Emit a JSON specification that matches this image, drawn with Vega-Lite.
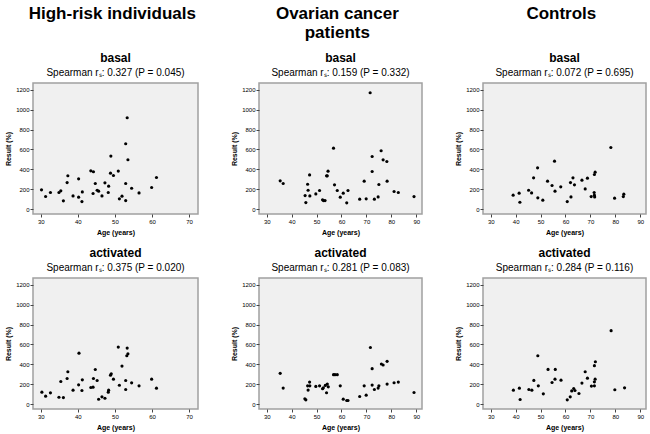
{
  "$schema": "https://vega.github.io/schema/vega-lite/v6.json",
  "padding": {"left": 3, "top": 5, "right": 5, "bottom": 5},
  "config": {
    "font": "Liberation Sans",
    "view": {"fill": "#f0f0f0", "stroke": "#a0a0a0", "strokeWidth": 1.5},
    "axis": {"grid": false, "domain": false, "tickSize": 3, "tickColor": "#444", "labelFontSize": 6, "labelColor": "#000", "labelPadding": 1, "titleFontSize": 7, "titleFontWeight": "bold", "titleColor": "#000", "titlePadding": 4, "format": "d"},
    "title": {"fontSize": 12, "fontWeight": "bold", "color": "#000", "subtitleFontSize": 10, "subtitleColor": "#000", "subtitlePadding": 3, "offset": 4, "frame": "group", "anchor": "middle"},
    "point": {"filled": true, "color": "#000", "size": 10, "opacity": 1}
  },
  "datasets": {
    "hr_b": [
      {"age": 30.2, "result": 195}, {"age": 31.3, "result": 128}, {"age": 32.6, "result": 168}, {"age": 34.9, "result": 168},
      {"age": 35.4, "result": 185}, {"age": 36.1, "result": 84}, {"age": 37.1, "result": 268}, {"age": 37.3, "result": 336},
      {"age": 38.7, "result": 134}, {"age": 40.2, "result": 121}, {"age": 40.2, "result": 305}, {"age": 41.1, "result": 77},
      {"age": 41.2, "result": 174}, {"age": 43.5, "result": 386}, {"age": 44.2, "result": 376}, {"age": 44.1, "result": 158},
      {"age": 44.7, "result": 258}, {"age": 45.2, "result": 191}, {"age": 45.6, "result": 181}, {"age": 46.5, "result": 134},
      {"age": 47.3, "result": 265}, {"age": 48.3, "result": 232}, {"age": 48.2, "result": 168}, {"age": 48.8, "result": 362},
      {"age": 48.9, "result": 534}, {"age": 49.6, "result": 339}, {"age": 50.9, "result": 383}, {"age": 51.2, "result": 104},
      {"age": 51.9, "result": 131}, {"age": 52.9, "result": 658}, {"age": 52.9, "result": 87}, {"age": 52.9, "result": 258},
      {"age": 53.3, "result": 919}, {"age": 53.5, "result": 497}, {"age": 54.5, "result": 211}, {"age": 56.5, "result": 164},
      {"age": 59.9, "result": 218}, {"age": 61.2, "result": 319}
    ],
    "hr_a": [
      {"age": 30.3, "result": 121}, {"age": 31.3, "result": 81}, {"age": 32.6, "result": 114}, {"age": 34.9, "result": 70},
      {"age": 36.1, "result": 67}, {"age": 35.4, "result": 228}, {"age": 37.1, "result": 258}, {"age": 37.3, "result": 326},
      {"age": 38.7, "result": 141}, {"age": 40.2, "result": 195}, {"age": 40.3, "result": 513}, {"age": 41.1, "result": 138},
      {"age": 41.2, "result": 245}, {"age": 43.5, "result": 168}, {"age": 44.1, "result": 171}, {"age": 44.2, "result": 258},
      {"age": 44.7, "result": 349}, {"age": 45.2, "result": 238}, {"age": 45.6, "result": 50}, {"age": 46.5, "result": 74},
      {"age": 47.3, "result": 60}, {"age": 48.2, "result": 121}, {"age": 48.3, "result": 141}, {"age": 48.8, "result": 292},
      {"age": 49.0, "result": 305}, {"age": 49.6, "result": 252}, {"age": 50.9, "result": 574}, {"age": 51.2, "result": 191},
      {"age": 51.9, "result": 383}, {"age": 52.9, "result": 148}, {"age": 52.9, "result": 238}, {"age": 53.2, "result": 487},
      {"age": 53.5, "result": 507}, {"age": 53.3, "result": 564}, {"age": 54.5, "result": 215}, {"age": 56.5, "result": 185},
      {"age": 59.9, "result": 252}, {"age": 61.2, "result": 161}
    ],
    "oc_b": [
      {"age": 35.4, "result": 285}, {"age": 36.6, "result": 258}, {"age": 45.4, "result": 137}, {"age": 45.7, "result": 67},
      {"age": 46.4, "result": 251}, {"age": 46.6, "result": 191}, {"age": 47.2, "result": 345}, {"age": 47.3, "result": 134},
      {"age": 49.7, "result": 154}, {"age": 51.2, "result": 188}, {"age": 52.4, "result": 94}, {"age": 52.8, "result": 87},
      {"age": 53.4, "result": 87}, {"age": 54.0, "result": 335}, {"age": 54.3, "result": 335}, {"age": 54.6, "result": 382},
      {"age": 56.8, "result": 613}, {"age": 57.2, "result": 245}, {"age": 58.3, "result": 188}, {"age": 59.5, "result": 121},
      {"age": 60.7, "result": 161}, {"age": 62.1, "result": 64}, {"age": 62.6, "result": 188}, {"age": 67.3, "result": 101},
      {"age": 69.1, "result": 282}, {"age": 69.9, "result": 104}, {"age": 71.5, "result": 1170}, {"age": 72.3, "result": 530},
      {"age": 72.3, "result": 379}, {"age": 73.2, "result": 101}, {"age": 74.7, "result": 124}, {"age": 75.0, "result": 248},
      {"age": 75.9, "result": 587}, {"age": 76.7, "result": 496}, {"age": 78.2, "result": 479}, {"age": 78.3, "result": 282},
      {"age": 81.1, "result": 178}, {"age": 82.8, "result": 168}, {"age": 89.1, "result": 127}
    ],
    "oc_a": [
      {"age": 35.4, "result": 310}, {"age": 36.6, "result": 162}, {"age": 45.3, "result": 54}, {"age": 45.7, "result": 44},
      {"age": 46.4, "result": 185}, {"age": 46.6, "result": 142}, {"age": 47.2, "result": 222}, {"age": 47.3, "result": 185},
      {"age": 49.7, "result": 179}, {"age": 51.2, "result": 185}, {"age": 52.4, "result": 155}, {"age": 52.7, "result": 165},
      {"age": 53.5, "result": 189}, {"age": 54.0, "result": 115}, {"age": 54.3, "result": 202}, {"age": 54.7, "result": 175},
      {"age": 56.8, "result": 297}, {"age": 57.4, "result": 297}, {"age": 58.3, "result": 297}, {"age": 59.5, "result": 185},
      {"age": 60.7, "result": 51}, {"age": 62.1, "result": 37}, {"age": 62.6, "result": 37}, {"age": 67.3, "result": 78},
      {"age": 69.1, "result": 185}, {"age": 69.9, "result": 91}, {"age": 71.6, "result": 570}, {"age": 72.3, "result": 357},
      {"age": 72.3, "result": 192}, {"age": 73.2, "result": 148}, {"age": 74.7, "result": 162}, {"age": 75.0, "result": 185},
      {"age": 76.0, "result": 404}, {"age": 76.7, "result": 394}, {"age": 78.3, "result": 431}, {"age": 78.3, "result": 202},
      {"age": 81.1, "result": 216}, {"age": 82.8, "result": 222}, {"age": 89.1, "result": 118}
    ],
    "co_b": [
      {"age": 39.0, "result": 141}, {"age": 41.4, "result": 161}, {"age": 41.7, "result": 70}, {"age": 45.2, "result": 191},
      {"age": 46.4, "result": 164}, {"age": 47.2, "result": 315}, {"age": 48.8, "result": 416}, {"age": 48.9, "result": 114},
      {"age": 50.9, "result": 91}, {"age": 52.8, "result": 282}, {"age": 54.6, "result": 238}, {"age": 55.6, "result": 483},
      {"age": 55.8, "result": 181}, {"age": 58.1, "result": 225}, {"age": 60.7, "result": 77}, {"age": 62.0, "result": 268},
      {"age": 62.2, "result": 124}, {"age": 63.0, "result": 315}, {"age": 63.6, "result": 245}, {"age": 66.6, "result": 292},
      {"age": 67.9, "result": 204}, {"age": 68.8, "result": 312}, {"age": 70.3, "result": 127}, {"age": 71.5, "result": 168},
      {"age": 71.6, "result": 141}, {"age": 71.7, "result": 124}, {"age": 71.6, "result": 349}, {"age": 71.9, "result": 372},
      {"age": 78.2, "result": 620}, {"age": 79.7, "result": 111}, {"age": 83.2, "result": 127}, {"age": 83.4, "result": 151}
    ],
    "co_a": [
      {"age": 39.1, "result": 141}, {"age": 41.5, "result": 161}, {"age": 41.8, "result": 47}, {"age": 45.3, "result": 148},
      {"age": 46.5, "result": 141}, {"age": 47.3, "result": 239}, {"age": 48.9, "result": 487}, {"age": 49.1, "result": 185},
      {"age": 51.1, "result": 104}, {"age": 53.0, "result": 350}, {"age": 54.6, "result": 218}, {"age": 55.8, "result": 252},
      {"age": 55.9, "result": 350}, {"age": 58.2, "result": 242}, {"age": 60.7, "result": 44}, {"age": 61.9, "result": 74},
      {"age": 62.5, "result": 134}, {"age": 63.3, "result": 158}, {"age": 63.8, "result": 138}, {"age": 65.4, "result": 108},
      {"age": 66.6, "result": 212}, {"age": 67.9, "result": 326}, {"age": 68.8, "result": 262}, {"age": 70.4, "result": 182},
      {"age": 71.6, "result": 185}, {"age": 71.6, "result": 225}, {"age": 71.9, "result": 252}, {"age": 71.6, "result": 387},
      {"age": 72.0, "result": 427}, {"age": 78.3, "result": 739}, {"age": 79.8, "result": 145}, {"age": 83.7, "result": 165}
    ]
  },
  "hconcat": [
    {
      "title": {"text": ["High-risk individuals", " "], "fontSize": 17, "lineHeight": 19, "offset": 9, "frame": "bounds", "dx": 11},
      "spacing": 10,
      "vconcat": [
        {
          "title": {"text": "basal", "subtitle": "Spearman r\u209b: 0.327 (P = 0.045)"},
          "width": 165, "height": 131,
          "data": {"name": "hr_b"},
          "mark": "point",
          "encoding": {
            "x": {"field": "age", "type": "quantitative", "title": "Age (years)", "scale": {"domain": [27.9, 72.4], "nice": false, "zero": false}, "axis": {"values": [30, 40, 50, 60, 70]}},
            "y": {"field": "result", "type": "quantitative", "title": "Result (%)", "scale": {"domain": [-48, 1268], "nice": false, "zero": false}, "axis": {"values": [0, 200, 400, 600, 800, 1000, 1200]}}
          }
        },
        {
          "title": {"text": "activated", "subtitle": "Spearman r\u209b: 0.375 (P = 0.020)"},
          "width": 165, "height": 131,
          "data": {"name": "hr_a"},
          "mark": "point",
          "encoding": {
            "x": {"field": "age", "type": "quantitative", "title": "Age (years)", "scale": {"domain": [27.9, 72.4], "nice": false, "zero": false}, "axis": {"values": [30, 40, 50, 60, 70]}},
            "y": {"field": "result", "type": "quantitative", "title": "Result (%)", "scale": {"domain": [-48, 1268], "nice": false, "zero": false}, "axis": {"values": [0, 200, 400, 600, 800, 1000, 1200]}}
          }
        }
      ]
    },
    {
      "title": {"text": ["Ovarian cancer", "patients"], "fontSize": 17, "lineHeight": 19, "offset": 9, "frame": "bounds", "dx": 11},
      "spacing": 10,
      "vconcat": [
        {
          "title": {"text": "basal", "subtitle": "Spearman r\u209b: 0.159 (P = 0.332)"},
          "width": 163, "height": 131,
          "data": {"name": "oc_b"},
          "mark": "point",
          "encoding": {
            "x": {"field": "age", "type": "quantitative", "title": "Age (years)", "scale": {"domain": [26.9, 92.3], "nice": false, "zero": false}, "axis": {"values": [30, 40, 50, 60, 70, 80, 90]}},
            "y": {"field": "result", "type": "quantitative", "title": "Result (%)", "scale": {"domain": [-48, 1268], "nice": false, "zero": false}, "axis": {"values": [0, 200, 400, 600, 800, 1000, 1200]}}
          }
        },
        {
          "title": {"text": "activated", "subtitle": "Spearman r\u209b: 0.281 (P = 0.083)"},
          "width": 163, "height": 131,
          "data": {"name": "oc_a"},
          "mark": "point",
          "encoding": {
            "x": {"field": "age", "type": "quantitative", "title": "Age (years)", "scale": {"domain": [26.9, 92.3], "nice": false, "zero": false}, "axis": {"values": [30, 40, 50, 60, 70, 80, 90]}},
            "y": {"field": "result", "type": "quantitative", "title": "Result (%)", "scale": {"domain": [-48, 1268], "nice": false, "zero": false}, "axis": {"values": [0, 200, 400, 600, 800, 1000, 1200]}}
          }
        }
      ]
    },
    {
      "title": {"text": ["Controls", " "], "fontSize": 17, "lineHeight": 19, "offset": 9, "frame": "bounds", "dx": 11},
      "spacing": 10,
      "vconcat": [
        {
          "title": {"text": "basal", "subtitle": "Spearman r\u209b: 0.072 (P = 0.695)"},
          "width": 163, "height": 131,
          "data": {"name": "co_b"},
          "mark": "point",
          "encoding": {
            "x": {"field": "age", "type": "quantitative", "title": "Age (years)", "scale": {"domain": [26.9, 92.3], "nice": false, "zero": false}, "axis": {"values": [30, 40, 50, 60, 70, 80, 90]}},
            "y": {"field": "result", "type": "quantitative", "title": "Result (%)", "scale": {"domain": [-48, 1268], "nice": false, "zero": false}, "axis": {"values": [0, 200, 400, 600, 800, 1000, 1200]}}
          }
        },
        {
          "title": {"text": "activated", "subtitle": "Spearman r\u209b: 0.284 (P = 0.116)"},
          "width": 163, "height": 131,
          "data": {"name": "co_a"},
          "mark": "point",
          "encoding": {
            "x": {"field": "age", "type": "quantitative", "title": "Age (years)", "scale": {"domain": [26.9, 92.3], "nice": false, "zero": false}, "axis": {"values": [30, 40, 50, 60, 70, 80, 90]}},
            "y": {"field": "result", "type": "quantitative", "title": "Result (%)", "scale": {"domain": [-48, 1268], "nice": false, "zero": false}, "axis": {"values": [0, 200, 400, 600, 800, 1000, 1200]}}
          }
        }
      ]
    }
  ],
  "spacing": 30
}
